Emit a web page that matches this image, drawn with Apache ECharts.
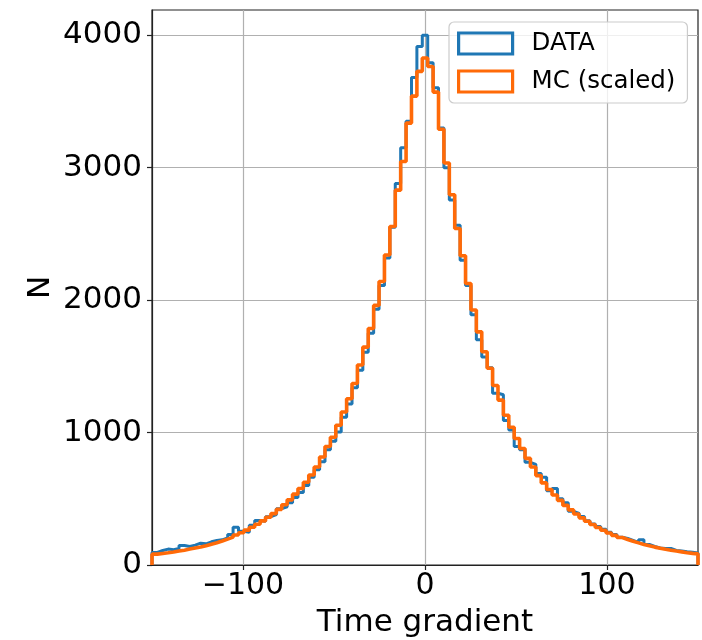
<!DOCTYPE html>
<html>
<head>
<meta charset="utf-8">
<title>Time gradient histogram</title>
<script src="https://cdn.jsdelivr.net/npm/echarts@6/dist/echarts.min.js"></script>
<style>
  html, body { margin: 0; padding: 0; background: #ffffff; }
  #chart { width: 702px; height: 640px; }
</style>
</head>
<body>
<div id="chart"></div>
<script>
// Histogram range and binning (101 equal bins over the range)
const xRange = [-150, 150];
const binCount = 101;

// Bin contents, ordered from the lowest bin to the highest
const dataCounts = [
  95, 110, 120, 115, 125, 147, 140, 150, 165, 160,
  175, 185, 190, 205, 230, 285, 255, 248, 300, 336,
  330, 365, 380, 425, 440, 470, 510, 548, 600, 662,
  720, 780, 870, 935, 1005, 1115, 1215, 1338, 1470, 1607,
  1750, 1930, 2110, 2318, 2550, 2880, 3150, 3350, 3680, 3915,
  4000,
  3792, 3603, 3300, 3000, 2756, 2565, 2300, 2110, 1890, 1700,
  1570, 1490, 1297, 1285, 1090, 1020, 895, 870, 775, 760,
  690, 662, 560, 578, 500, 470, 405, 390, 367, 335,
  310, 290, 270, 248, 230, 210, 200, 185, 170, 190,
  155, 140, 128, 125, 125, 110, 105, 100, 97, 90
];

const mcCounts = [
  82, 87, 92, 98, 105, 112, 120, 128, 136, 146,
  157, 168, 181, 195, 210, 226, 243, 263, 285, 308,
  333, 360, 388, 420, 455, 492, 535, 578, 625, 680,
  740, 815, 895, 965, 1055, 1155, 1255, 1370, 1510, 1645,
  1785, 1960, 2140, 2340, 2555, 2830, 3046, 3336, 3540, 3727,
  3828,
  3764, 3570, 3290, 3035, 2795, 2540, 2335, 2125, 1925, 1760,
  1610, 1485, 1355, 1245, 1130, 1040, 955, 880, 805, 740,
  675, 620, 570, 528, 488, 450, 416, 385, 356, 330,
  306, 283, 262, 242, 224, 208, 193, 179, 167, 155,
  145, 135, 127, 119, 112, 105, 99, 93, 88, 84
];

const seriesNames = ['DATA', 'MC (scaled)'];
const xTicks = [-100, 0, 100];
const yTicks = [0, 1000, 2000, 3000, 4000];
const yMax = 4190;

const FONT = 'DejaVu Sans';
const BLUE = '#1f77b4';
const ORANGE = '#ff6a08';

// Outline of a step histogram: drops to zero at both outer edges
function stepOutline(counts) {
  const w = (xRange[1] - xRange[0]) / binCount;
  const pts = [[xRange[0], 0]];
  for (let i = 0; i < counts.length; i++) {
    const lo = xRange[0] + i * w;
    const hi = xRange[0] + (i + 1) * w;
    pts.push([lo, counts[i]]);
    pts.push([hi, counts[i]]);
  }
  pts.push([xRange[1], 0]);
  return pts;
}

const minusSign = v => String(v).replace('-', '\u2212');
const plainNumber = v => String(v);

const chart = echarts.init(document.getElementById('chart'), null, { renderer: 'canvas' });

chart.setOption({
  animation: false,
  backgroundColor: '#ffffff',
  grid: {
    left: 152, top: 10, width: 546, height: 555,
    show: true, borderColor: '#222222', borderWidth: 1.2,
    containLabel: false,
    outerBoundsMode: 'none'
  },
  legend: {
    orient: 'vertical',
    left: 449, top: 22,
    padding: [9, 12, 9, 8],
    itemGap: 13,
    itemWidth: 54, itemHeight: 21,
    icon: 'rect',
    backgroundColor: 'rgba(255,255,255,0.8)',
    borderColor: '#cccccc', borderWidth: 1.2, borderRadius: 5,
    textStyle: { fontFamily: FONT, fontSize: 24.5, color: '#000000', padding: [0, 0, 0, 14] },
    data: [
      { name: seriesNames[0], icon: 'rect',
        itemStyle: { color: 'rgba(0,0,0,0)', borderColor: BLUE, borderWidth: 3.2 } },
      { name: seriesNames[1], icon: 'rect',
        itemStyle: { color: 'rgba(0,0,0,0)', borderColor: ORANGE, borderWidth: 3.2 } }
    ]
  },
  xAxis: {
    type: 'value',
    min: xRange[0], max: xRange[1],
    name: 'Time gradient',
    nameLocation: 'middle',
    nameGap: 42,
    nameMoveOverlap: false,
    nameTextStyle: { fontFamily: FONT, fontSize: 31, color: '#000000' },
    axisLine: { show: true, onZero: false, lineStyle: { color: '#222222', width: 1.2 } },
    axisTick: { show: true, length: 5, customValues: xTicks,
      lineStyle: { color: '#222222', width: 1.2 } },
    axisLabel: { customValues: xTicks, margin: 6, formatter: minusSign,
      fontFamily: FONT, fontSize: 30, color: '#000000' },
    splitLine: { show: true, lineStyle: { color: '#b0b0b0', width: 1.2 } }
  },
  yAxis: {
    type: 'value',
    min: 0, max: yMax,
    name: 'N',
    nameLocation: 'middle',
    nameGap: 96,
    nameMoveOverlap: false,
    nameTextStyle: { fontFamily: FONT, fontSize: 31, color: '#000000' },
    axisLine: { show: true, onZero: false, lineStyle: { color: '#222222', width: 1.2 } },
    axisTick: { show: true, length: 5, customValues: yTicks,
      lineStyle: { color: '#222222', width: 1.2 } },
    axisLabel: { customValues: yTicks, margin: 10, formatter: plainNumber,
      fontFamily: FONT, fontSize: 31, color: '#000000' },
    splitLine: { show: true, lineStyle: { color: '#b0b0b0', width: 1.2 } }
  },
  series: [
    {
      name: seriesNames[0],
      type: 'line',
      data: stepOutline(dataCounts),
      showSymbol: false,
      symbol: 'none',
      clip: true,
      color: BLUE,
      lineStyle: { color: BLUE, width: 3 },
      z: 3
    },
    {
      name: seriesNames[1],
      type: 'line',
      data: stepOutline(mcCounts),
      showSymbol: false,
      symbol: 'none',
      clip: true,
      color: ORANGE,
      lineStyle: { color: ORANGE, width: 3.6 },
      z: 4
    }
  ]
});
</script>
</body>
</html>
